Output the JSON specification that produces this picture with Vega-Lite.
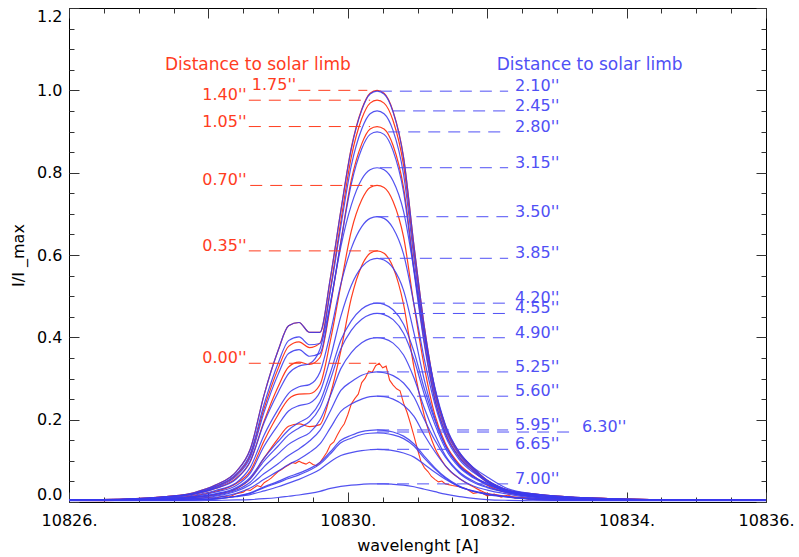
{
"$schema": "https://vega.github.io/schema/vega-lite/v6.json",
"width": 697, "height": 494,
"autosize": {"type": "none"},
"padding": {"left": 69, "top": 8, "right": 33, "bottom": 55},
"background": "white",
"config": {
 "view": {"stroke": "#000"},
 "axis": {"domain": false, "grid": false}
},
"datasets": {
"prof": [
{"x":10826.0,"r035":0.004,"r070":0.004,"r105":0.005,"r140":0.005,"r175":0.005,"b210":0.005,"b245":0.005,"b280":0.005,"b315":0.005,"b350":0.004,"b385":0.004,"b420":0.004,"b455":0.004,"b490":0.004,"b525":0.004,"b560":0.004,"b595":0.004,"b630":0.004,"b665":0.004,"b700":0.003},
{"x":10826.8,"r035":0.004,"r070":0.005,"r105":0.006,"r140":0.007,"r175":0.007,"b210":0.007,"b245":0.007,"b280":0.006,"b315":0.007,"b350":0.006,"b385":0.005,"b420":0.005,"b455":0.005,"b490":0.004,"b525":0.004,"b560":0.004,"b595":0.004,"b630":0.004,"b665":0.004,"b700":0.003},
{"x":10827.4,"r035":0.006,"r070":0.009,"r105":0.012,"r140":0.013,"r175":0.013,"b210":0.013,"b245":0.013,"b280":0.012,"b315":0.012,"b350":0.010,"b385":0.009,"b420":0.008,"b455":0.007,"b490":0.006,"b525":0.006,"b560":0.005,"b595":0.004,"b630":0.004,"b665":0.004,"b700":0.003},
{"x":10827.8,"r035":0.011,"r070":0.015,"r105":0.019,"r140":0.021,"r175":0.023,"b210":0.023,"b245":0.021,"b280":0.020,"b315":0.020,"b350":0.017,"b385":0.014,"b420":0.013,"b455":0.012,"b490":0.011,"b525":0.009,"b560":0.008,"b595":0.005,"b630":0.005,"b665":0.005,"b700":0.003},
{"x":10828.1,"r035":0.018,"r070":0.026,"r105":0.033,"r140":0.037,"r175":0.041,"b210":0.041,"b245":0.038,"b280":0.035,"b315":0.033,"b350":0.028,"b385":0.024,"b420":0.020,"b455":0.019,"b490":0.016,"b525":0.014,"b560":0.011,"b595":0.008,"b630":0.007,"b665":0.008,"b700":0.004},
{"x":10828.4,"r035":0.032,"r070":0.045,"r105":0.058,"r140":0.066,"r175":0.074,"b210":0.074,"b245":0.068,"b280":0.063,"b315":0.056,"b350":0.047,"b385":0.040,"b420":0.035,"b455":0.033,"b490":0.029,"b525":0.026,"b560":0.021,"b595":0.014,"b630":0.014,"b665":0.013,"b700":0.005},
{"x":10828.6,"r035":0.056,"r070":0.075,"r105":0.098,"r140":0.113,"r175":0.128,"b210":0.128,"b245":0.117,"b280":0.108,"b315":0.099,"b350":0.084,"b385":0.070,"b420":0.060,"b455":0.056,"b490":0.048,"b525":0.042,"b560":0.034,"b595":0.022,"b630":0.021,"b665":0.018,"b700":0.006},
{"x":10828.8,"r035":0.107,"r070":0.149,"r105":0.197,"r140":0.228,"r175":0.261,"b210":0.261,"b245":0.238,"b280":0.219,"b315":0.193,"b350":0.163,"b385":0.136,"b420":0.107,"b455":0.100,"b490":0.086,"b525":0.069,"b560":0.055,"b595":0.037,"b630":0.035,"b665":0.027,"b700":0.008},
{"x":10829.0,"r035":0.154,"r070":0.212,"r105":0.280,"r140":0.324,"r175":0.368,"b210":0.368,"b245":0.337,"b280":0.310,"b315":0.266,"b350":0.225,"b385":0.187,"b420":0.147,"b455":0.136,"b490":0.117,"b525":0.093,"b560":0.075,"b595":0.050,"b630":0.047,"b665":0.037,"b700":0.011},
{"x":10829.15,"r035":0.184,"r070":0.250,"r105":0.328,"r140":0.378,"r175":0.428,"b210":0.428,"b245":0.392,"b280":0.361,"b315":0.312,"b350":0.264,"b385":0.221,"b420":0.175,"b455":0.163,"b490":0.140,"b525":0.113,"b560":0.091,"b595":0.061,"b630":0.057,"b665":0.046,"b700":0.014},
{"x":10829.3,"r035":0.190,"r070":0.262,"r105":0.340,"r140":0.389,"r175":0.436,"b210":0.436,"b245":0.401,"b280":0.370,"b315":0.330,"b350":0.280,"b385":0.234,"b420":0.193,"b455":0.180,"b490":0.155,"b525":0.129,"b560":0.104,"b595":0.070,"b630":0.066,"b665":0.055,"b700":0.017},
{"x":10829.45,"r035":0.183,"r070":0.263,"r105":0.334,"r140":0.375,"r175":0.412,"b210":0.412,"b245":0.382,"b280":0.354,"b315":0.336,"b350":0.285,"b385":0.240,"b420":0.208,"b455":0.195,"b490":0.168,"b525":0.148,"b560":0.120,"b595":0.081,"b630":0.077,"b665":0.066,"b700":0.021},
{"x":10829.6,"r035":0.188,"r070":0.285,"r105":0.351,"r140":0.386,"r175":0.412,"b210":0.412,"b245":0.385,"b280":0.361,"b315":0.371,"b350":0.315,"b385":0.267,"b420":0.243,"b455":0.229,"b490":0.199,"b525":0.174,"b560":0.141,"b595":0.096,"b630":0.092,"b665":0.079,"b700":0.026},
{"x":10829.75,"r035":0.261,"r070":0.392,"r105":0.476,"r140":0.518,"r175":0.544,"b210":0.544,"b245":0.512,"b280":0.481,"b315":0.483,"b350":0.411,"b385":0.350,"b420":0.314,"b455":0.297,"b490":0.258,"b525":0.221,"b560":0.180,"b595":0.122,"b630":0.117,"b665":0.098,"b700":0.033},
{"x":10829.9,"r035":0.367,"r070":0.527,"r105":0.632,"r140":0.682,"r175":0.708,"b210":0.707,"b245":0.669,"b280":0.631,"b315":0.620,"b350":0.529,"b385":0.451,"b420":0.393,"b455":0.372,"b490":0.324,"b525":0.271,"b560":0.220,"b595":0.150,"b630":0.144,"b665":0.113,"b700":0.038},
{"x":10830.05,"r035":0.495,"r070":0.658,"r105":0.782,"r140":0.838,"r175":0.860,"b210":0.858,"b245":0.817,"b280":0.772,"b315":0.721,"b350":0.616,"b385":0.526,"b420":0.440,"b455":0.417,"b490":0.363,"b525":0.292,"b560":0.238,"b595":0.162,"b630":0.155,"b665":0.120,"b700":0.041},
{"x":10830.2,"r035":0.574,"r070":0.734,"r105":0.870,"r140":0.931,"r175":0.954,"b210":0.952,"b245":0.906,"b280":0.858,"b315":0.784,"b350":0.669,"b385":0.571,"b420":0.469,"b455":0.444,"b490":0.387,"b525":0.308,"b560":0.250,"b595":0.171,"b630":0.164,"b665":0.125,"b700":0.043},
{"x":10830.32,"r035":0.604,"r070":0.764,"r105":0.906,"r140":0.969,"r175":0.993,"b210":0.991,"b245":0.943,"b280":0.893,"b315":0.807,"b350":0.689,"b385":0.588,"b420":0.480,"b455":0.455,"b490":0.397,"b525":0.314,"b560":0.256,"b595":0.174,"b630":0.167,"b665":0.127,"b700":0.044},
{"x":10830.42,"r035":0.610,"r070":0.769,"r105":0.912,"r140":0.976,"r175":1.0,"b210":0.998,"b245":0.950,"b280":0.899,"b315":0.812,"b350":0.693,"b385":0.592,"b420":0.483,"b455":0.458,"b490":0.399,"b525":0.316,"b560":0.257,"b595":0.175,"b630":0.168,"b665":0.128,"b700":0.044},
{"x":10830.52,"r035":0.604,"r070":0.764,"r105":0.906,"r140":0.969,"r175":0.993,"b210":0.991,"b245":0.943,"b280":0.893,"b315":0.807,"b350":0.689,"b385":0.588,"b420":0.480,"b455":0.455,"b490":0.397,"b525":0.314,"b560":0.256,"b595":0.174,"b630":0.167,"b665":0.127,"b700":0.044},
{"x":10830.65,"r035":0.570,"r070":0.730,"r105":0.866,"r140":0.926,"r175":0.949,"b210":0.947,"b245":0.902,"b280":0.853,"b315":0.780,"b350":0.665,"b385":0.568,"b420":0.467,"b455":0.443,"b490":0.386,"b525":0.307,"b560":0.250,"b595":0.170,"b630":0.163,"b665":0.125,"b700":0.043},
{"x":10830.8,"r035":0.480,"r070":0.644,"r105":0.764,"r140":0.818,"r175":0.838,"b210":0.836,"b245":0.796,"b280":0.753,"b315":0.706,"b350":0.602,"b385":0.514,"b420":0.432,"b455":0.410,"b490":0.357,"b525":0.289,"b560":0.235,"b595":0.160,"b630":0.154,"b665":0.119,"b700":0.041},
{"x":10830.95,"r035":0.327,"r070":0.478,"r105":0.567,"r140":0.607,"r175":0.622,"b210":0.621,"b245":0.591,"b280":0.559,"b315":0.563,"b350":0.480,"b385":0.410,"b420":0.365,"b455":0.346,"b490":0.301,"b525":0.255,"b560":0.208,"b595":0.141,"b630":0.136,"b665":0.109,"b700":0.037},
{"x":10831.1,"r035":0.208,"r070":0.326,"r105":0.387,"r140":0.414,"r175":0.424,"b210":0.423,"b245":0.403,"b280":0.381,"b315":0.404,"b350":0.345,"b385":0.295,"b420":0.274,"b455":0.260,"b490":0.227,"b525":0.200,"b560":0.162,"b595":0.111,"b630":0.106,"b665":0.091,"b700":0.031},
{"x":10831.25,"r035":0.131,"r070":0.211,"r105":0.250,"r140":0.267,"r175":0.274,"b210":0.274,"b245":0.260,"b280":0.246,"b315":0.278,"b350":0.237,"b385":0.203,"b420":0.198,"b455":0.188,"b490":0.164,"b525":0.150,"b560":0.122,"b595":0.083,"b630":0.080,"b665":0.072,"b700":0.025},
{"x":10831.4,"r035":0.088,"r070":0.142,"r105":0.169,"r140":0.181,"r175":0.185,"b210":0.185,"b245":0.176,"b280":0.166,"b315":0.188,"b350":0.160,"b385":0.137,"b420":0.137,"b455":0.130,"b490":0.113,"b525":0.109,"b560":0.088,"b595":0.060,"b630":0.058,"b665":0.055,"b700":0.019},
{"x":10831.6,"r035":0.057,"r070":0.092,"r105":0.109,"r140":0.117,"r175":0.120,"b210":0.120,"b245":0.114,"b280":0.108,"b315":0.121,"b350":0.103,"b385":0.088,"b420":0.088,"b455":0.084,"b490":0.073,"b525":0.070,"b560":0.057,"b595":0.039,"b630":0.037,"b665":0.037,"b700":0.013},
{"x":10831.8,"r035":0.037,"r070":0.064,"r105":0.076,"r140":0.081,"r175":0.083,"b210":0.083,"b245":0.079,"b280":0.075,"b315":0.084,"b350":0.072,"b385":0.062,"b420":0.062,"b455":0.059,"b490":0.051,"b525":0.048,"b560":0.039,"b595":0.027,"b630":0.026,"b665":0.026,"b700":0.009},
{"x":10832.0,"r035":0.021,"r070":0.041,"r105":0.048,"r140":0.052,"r175":0.053,"b210":0.053,"b245":0.050,"b280":0.048,"b315":0.061,"b350":0.052,"b385":0.044,"b420":0.045,"b455":0.042,"b490":0.037,"b525":0.035,"b560":0.029,"b595":0.020,"b630":0.019,"b665":0.018,"b700":0.006},
{"x":10832.3,"r035":0.014,"r070":0.022,"r105":0.026,"r140":0.028,"r175":0.029,"b210":0.029,"b245":0.028,"b280":0.026,"b315":0.032,"b350":0.028,"b385":0.024,"b420":0.027,"b455":0.025,"b490":0.022,"b525":0.023,"b560":0.019,"b595":0.013,"b630":0.012,"b665":0.012,"b700":0.004},
{"x":10832.7,"r035":0.009,"r070":0.014,"r105":0.017,"r140":0.018,"r175":0.019,"b210":0.019,"b245":0.018,"b280":0.017,"b315":0.019,"b350":0.016,"b385":0.014,"b420":0.014,"b455":0.013,"b490":0.011,"b525":0.011,"b560":0.009,"b595":0.006,"b630":0.006,"b665":0.007,"b700":0.003},
{"x":10833.2,"r035":0.006,"r070":0.009,"r105":0.011,"r140":0.011,"r175":0.012,"b210":0.012,"b245":0.011,"b280":0.011,"b315":0.012,"b350":0.010,"b385":0.008,"b420":0.009,"b455":0.008,"b490":0.007,"b525":0.007,"b560":0.006,"b595":0.004,"b630":0.004,"b665":0.004,"b700":0.003},
{"x":10834.0,"r035":0.005,"r070":0.006,"r105":0.007,"r140":0.007,"r175":0.007,"b210":0.007,"b245":0.007,"b280":0.006,"b315":0.007,"b350":0.006,"b385":0.005,"b420":0.005,"b455":0.005,"b490":0.004,"b525":0.004,"b560":0.004,"b595":0.004,"b630":0.004,"b665":0.004,"b700":0.003},
{"x":10835.0,"r035":0.004,"r070":0.004,"r105":0.005,"r140":0.005,"r175":0.005,"b210":0.005,"b245":0.005,"b280":0.004,"b315":0.005,"b350":0.004,"b385":0.004,"b420":0.004,"b455":0.004,"b490":0.004,"b525":0.004,"b560":0.004,"b595":0.004,"b630":0.004,"b665":0.004,"b700":0.003},
{"x":10836.0,"r035":0.004,"r070":0.004,"r105":0.004,"r140":0.004,"r175":0.004,"b210":0.004,"b245":0.004,"b280":0.004,"b315":0.004,"b350":0.004,"b385":0.004,"b420":0.004,"b455":0.004,"b490":0.004,"b525":0.004,"b560":0.004,"b595":0.004,"b630":0.004,"b665":0.004,"b700":0.003}
],
"noisy": [
{"x":10826.0,"v":0.004},{"x":10826.5,"v":0.003},{"x":10827.0,"v":0.005},{"x":10827.5,"v":0.004},{"x":10827.8,"v":0.008},{"x":10828.0,"v":0.011},{"x":10828.1,"v":0.009},{"x":10828.2,"v":0.014},{"x":10828.3,"v":0.012},{"x":10828.4,"v":0.02},{"x":10828.5,"v":0.024},{"x":10828.55,"v":0.03},{"x":10828.6,"v":0.028},{"x":10828.7,"v":0.04},{"x":10828.75,"v":0.037},{"x":10828.8,"v":0.047},{"x":10828.85,"v":0.052},{"x":10828.9,"v":0.058},{"x":10828.95,"v":0.066},{"x":10829.0,"v":0.074},{"x":10829.05,"v":0.079},{"x":10829.1,"v":0.085},{"x":10829.15,"v":0.09},{"x":10829.2,"v":0.096},{"x":10829.25,"v":0.094},{"x":10829.3,"v":0.099},{"x":10829.35,"v":0.095},{"x":10829.4,"v":0.092},{"x":10829.45,"v":0.097},{"x":10829.5,"v":0.091},{"x":10829.55,"v":0.088},{"x":10829.6,"v":0.096},{"x":10829.65,"v":0.108},{"x":10829.7,"v":0.121},{"x":10829.75,"v":0.139},{"x":10829.8,"v":0.146},{"x":10829.85,"v":0.163},{"x":10829.9,"v":0.178},{"x":10829.95,"v":0.19},{"x":10830.0,"v":0.212},{"x":10830.05,"v":0.238},{"x":10830.1,"v":0.251},{"x":10830.15,"v":0.262},{"x":10830.2,"v":0.29},{"x":10830.25,"v":0.301},{"x":10830.3,"v":0.318},{"x":10830.35,"v":0.315},{"x":10830.4,"v":0.331},{"x":10830.45,"v":0.337},{"x":10830.5,"v":0.326},{"x":10830.55,"v":0.33},{"x":10830.6,"v":0.296},{"x":10830.65,"v":0.284},{"x":10830.7,"v":0.275},{"x":10830.75,"v":0.27},{"x":10830.8,"v":0.24},{"x":10830.85,"v":0.218},{"x":10830.9,"v":0.19},{"x":10830.95,"v":0.16},{"x":10831.0,"v":0.128},{"x":10831.05,"v":0.098},{"x":10831.1,"v":0.083},{"x":10831.15,"v":0.074},{"x":10831.2,"v":0.062},{"x":10831.25,"v":0.055},{"x":10831.3,"v":0.049},{"x":10831.35,"v":0.051},{"x":10831.4,"v":0.044},{"x":10831.5,"v":0.04},{"x":10831.6,"v":0.037},{"x":10831.7,"v":0.032},{"x":10831.8,"v":0.021},{"x":10831.9,"v":0.024},{"x":10832.0,"v":0.015},{"x":10832.1,"v":0.019},{"x":10832.2,"v":0.012},{"x":10832.3,"v":0.017},{"x":10832.4,"v":0.009},{"x":10832.5,"v":0.011},{"x":10832.6,"v":0.006},{"x":10833.0,"v":0.005},{"x":10834.0,"v":0.004},{"x":10835.0,"v":0.004},{"x":10836.0,"v":0.004}
],
"labs": [
{"t":"0.00''","side":"red","xl":10828.55,"x1":10828.58,"x2":10830.41,"y":0.337},
{"t":"0.35''","side":"red","xl":10828.55,"x1":10828.58,"x2":10830.43,"y":0.610},
{"t":"0.70''","side":"red","xl":10828.55,"x1":10828.6,"x2":10830.36,"y":0.769},
{"t":"1.05''","side":"red","xl":10828.55,"x1":10828.58,"x2":10830.32,"y":0.912},
{"t":"1.40''","side":"red","xl":10828.55,"x1":10828.58,"x2":10830.32,"y":0.976},
{"t":"1.75''","side":"red","xl":10829.26,"x1":10829.29,"x2":10830.28,"y":1.0},
{"t":"2.10''","side":"blue","xl":10832.4,"x1":10830.46,"x2":10832.3,"y":0.998},
{"t":"2.45''","side":"blue","xl":10832.4,"x1":10830.65,"x2":10832.3,"y":0.950},
{"t":"2.80''","side":"blue","xl":10832.4,"x1":10830.58,"x2":10832.3,"y":0.899},
{"t":"3.15''","side":"blue","xl":10832.4,"x1":10830.46,"x2":10832.3,"y":0.812},
{"t":"3.50''","side":"blue","xl":10832.4,"x1":10830.41,"x2":10832.3,"y":0.693},
{"t":"3.85''","side":"blue","xl":10832.4,"x1":10830.46,"x2":10832.3,"y":0.592},
{"t":"4.20''","side":"blue","xl":10832.4,"x1":10830.36,"x2":10832.3,"y":0.483},
{"t":"4.55''","side":"blue","xl":10832.4,"x1":10830.36,"x2":10832.3,"y":0.458},
{"t":"4.90''","side":"blue","xl":10832.4,"x1":10830.36,"x2":10832.3,"y":0.399},
{"t":"5.25''","side":"blue","xl":10832.4,"x1":10830.42,"x2":10832.3,"y":0.316},
{"t":"5.60''","side":"blue","xl":10832.4,"x1":10830.42,"x2":10832.3,"y":0.257},
{"t":"5.95''","side":"blue","xl":10832.4,"x1":10830.42,"x2":10832.3,"y":0.175},
{"t":"6.30''","side":"blue","xl":10833.36,"x1":10830.42,"x2":10833.25,"y":0.170},
{"t":"6.65''","side":"blue","xl":10832.4,"x1":10830.42,"x2":10832.3,"y":0.128},
{"t":"7.00''","side":"blue","xl":10832.4,"x1":10830.42,"x2":10832.3,"y":0.044}
],
"heads": [
{"t":"Distance to solar limb","side":"red","x":10828.71,"y":1.049},
{"t":"Distance to solar limb","side":"blue","x":10833.47,"y":1.049}
]
},
"resolve": {"axis": {"x": "independent", "y": "independent"}},
"layer": [
{
 "data": {"name": "prof"},
 "transform": [{"fold": ["r035","r070","r105","r140","r175"], "as": ["curve","v"]}],
 "mark": {"type": "line", "color": "#ff3c1e", "strokeWidth": 1.2, "interpolate": "monotone"},
 "encoding": {
  "x": {"field": "x", "type": "quantitative", "scale": {"domain": [10826, 10836], "nice": false, "zero": false},
   "axis": {"orient": "bottom", "values": [10826,10828,10830,10832,10834,10836], "labelExpr": "datum.value + '.'", "labelFlush": false, "tickSize": -10, "tickColor": "#333", "labelPadding": 20, "labelFont": "DejaVu Sans", "labelFontSize": 16, "labelColor": "#000", "title": "wavelenght [A]", "titlePadding": 9, "titleFont": "DejaVu Sans", "titleFontSize": 16, "titleFontWeight": "normal", "titleColor": "#000"}},
  "y": {"field": "v", "type": "quantitative", "scale": {"domain": [0, 1.2], "nice": false, "zero": false},
   "axis": {"orient": "left", "values": [0,0.2,0.4,0.6,0.8,1.0,1.2], "format": ".1f", "labelFlush": true, "tickSize": -10, "tickColor": "#333", "labelPadding": 17, "labelFont": "DejaVu Sans", "labelFontSize": 16, "labelColor": "#000", "title": "I/I _max", "titlePadding": 10, "titleFont": "DejaVu Sans", "titleFontSize": 16, "titleFontWeight": "normal", "titleColor": "#000"}},
  "detail": {"field": "curve"}
 }
},
{
 "data": {"name": "noisy"},
 "mark": {"type": "line", "color": "#ff3c1e", "strokeWidth": 1.1},
 "encoding": {
  "x": {"field": "x", "type": "quantitative", "scale": {"domain": [10826, 10836], "nice": false, "zero": false},
   "axis": {"orient": "bottom", "values": [10826,10826.5,10827,10827.5,10828,10828.5,10829,10829.5,10830,10830.5,10831,10831.5,10832,10832.5,10833,10833.5,10834,10834.5,10835,10835.5,10836], "labels": false, "tickSize": -5, "tickColor": "#333", "title": null}},
  "y": {"field": "v", "type": "quantitative", "scale": {"domain": [0, 1.2], "nice": false, "zero": false},
   "axis": {"orient": "left", "values": [0,0.05,0.1,0.15,0.2,0.25,0.3,0.35,0.4,0.45,0.5,0.55,0.6,0.65,0.7,0.75,0.8,0.85,0.9,0.95,1.0,1.05,1.1,1.15,1.2], "labels": false, "tickSize": -5, "tickColor": "#333", "title": null}}
 }
},
{
 "data": {"name": "prof"},
 "transform": [{"fold": ["b210","b245","b280","b315","b350","b385","b420","b455","b490","b525","b560","b595","b630","b665","b700"], "as": ["curve","v"]}],
 "mark": {"type": "line", "color": "#3a3aee", "strokeWidth": 1.2, "opacity": 0.88, "interpolate": "monotone"},
 "encoding": {
  "x": {"field": "x", "type": "quantitative", "scale": {"domain": [10826, 10836], "nice": false, "zero": false},
   "axis": {"orient": "top", "values": [10826,10828,10830,10832,10834,10836], "labels": false, "tickSize": -10, "tickColor": "#333", "title": null}},
  "y": {"field": "v", "type": "quantitative", "scale": {"domain": [0, 1.2], "nice": false, "zero": false},
   "axis": {"orient": "right", "values": [0,0.2,0.4,0.6,0.8,1.0,1.2], "labels": false, "tickSize": -10, "tickColor": "#333", "title": null}},
  "detail": {"field": "curve"}
 }
},
{
 "data": {"name": "labs"},
 "mark": {"type": "rule", "strokeDash": [12, 8], "strokeWidth": 1},
 "encoding": {
  "x": {"field": "x1", "type": "quantitative", "scale": {"domain": [10826, 10836], "nice": false, "zero": false},
   "axis": {"orient": "top", "values": [10826,10826.5,10827,10827.5,10828,10828.5,10829,10829.5,10830,10830.5,10831,10831.5,10832,10832.5,10833,10833.5,10834,10834.5,10835,10835.5,10836], "labels": false, "tickSize": -5, "tickColor": "#333", "title": null}},
  "x2": {"field": "x2"},
  "y": {"field": "y", "type": "quantitative", "scale": {"domain": [0, 1.2], "nice": false, "zero": false},
   "axis": {"orient": "right", "values": [0,0.05,0.1,0.15,0.2,0.25,0.3,0.35,0.4,0.45,0.5,0.55,0.6,0.65,0.7,0.75,0.8,0.85,0.9,0.95,1.0,1.05,1.1,1.15,1.2], "labels": false, "tickSize": -5, "tickColor": "#333", "title": null}},
  "color": {"field": "side", "type": "nominal", "scale": {"domain": ["red","blue"], "range": ["#ff3c1e","#5050f5"]}, "legend": null}
 }
},
{
 "data": {"name": "labs"},
 "transform": [{"filter": "datum.side == 'red'"}],
 "mark": {"type": "text", "align": "right", "baseline": "alphabetic", "font": "DejaVu Sans", "fontSize": 16},
 "encoding": {
  "x": {"field": "xl", "type": "quantitative", "scale": {"domain": [10826, 10836], "nice": false, "zero": false}, "axis": null},
  "y": {"field": "y", "type": "quantitative", "scale": {"domain": [0, 1.2], "nice": false, "zero": false}, "axis": null},
  "text": {"field": "t"},
  "color": {"field": "side", "type": "nominal", "scale": {"domain": ["red","blue"], "range": ["#ff3c1e","#5050f5"]}, "legend": null}
 }
},
{
 "data": {"name": "labs"},
 "transform": [{"filter": "datum.side == 'blue'"}],
 "mark": {"type": "text", "align": "left", "baseline": "alphabetic", "font": "DejaVu Sans", "fontSize": 16},
 "encoding": {
  "x": {"field": "xl", "type": "quantitative", "scale": {"domain": [10826, 10836], "nice": false, "zero": false}, "axis": null},
  "y": {"field": "y", "type": "quantitative", "scale": {"domain": [0, 1.2], "nice": false, "zero": false}, "axis": null},
  "text": {"field": "t"},
  "color": {"field": "side", "type": "nominal", "scale": {"domain": ["red","blue"], "range": ["#ff3c1e","#5050f5"]}, "legend": null}
 }
},
{
 "data": {"name": "heads"},
 "mark": {"type": "text", "align": "center", "baseline": "alphabetic", "font": "DejaVu Sans", "fontSize": 17},
 "encoding": {
  "x": {"field": "x", "type": "quantitative", "scale": {"domain": [10826, 10836], "nice": false, "zero": false}, "axis": null},
  "y": {"field": "y", "type": "quantitative", "scale": {"domain": [0, 1.2], "nice": false, "zero": false}, "axis": null},
  "text": {"field": "t"},
  "color": {"field": "side", "type": "nominal", "scale": {"domain": ["red","blue"], "range": ["#ff3c1e","#5050f5"]}, "legend": null}
 }
}
]
}
